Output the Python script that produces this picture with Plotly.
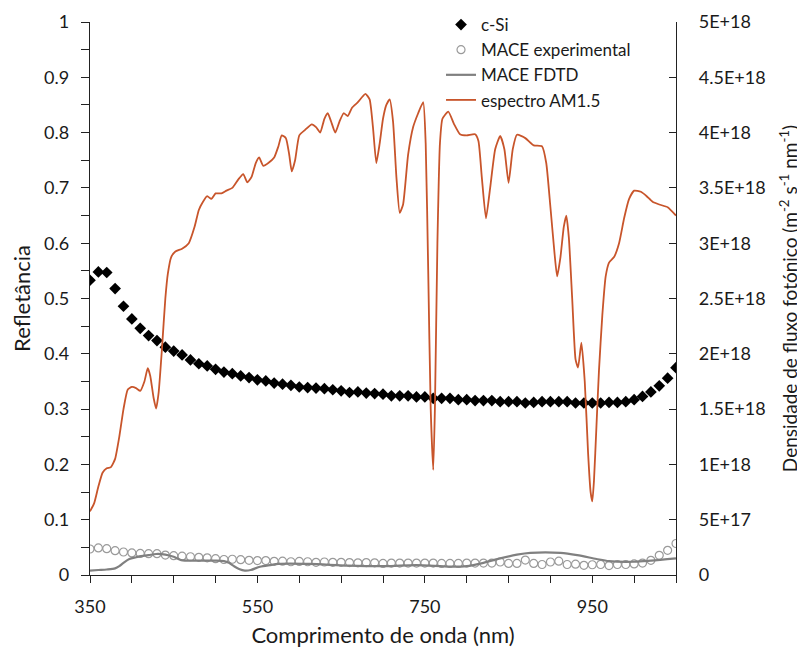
import plotly.graph_objects as go

# ---------------- data ----------------
wl_grid = list(range(350, 1051, 10))

csi_refl = [0.533, 0.548, 0.547, 0.518, 0.486, 0.463, 0.446, 0.433, 0.424, 0.412,
            0.405, 0.398, 0.389, 0.382, 0.378, 0.372, 0.367, 0.364, 0.360, 0.357,
            0.353, 0.351, 0.347, 0.345, 0.343, 0.340, 0.339, 0.338, 0.337, 0.335,
            0.333, 0.330, 0.331, 0.329, 0.328, 0.327, 0.324, 0.324, 0.324, 0.322,
            0.322, 0.3195, 0.3195, 0.3195, 0.317, 0.317, 0.3155, 0.3155, 0.3155, 0.3135,
            0.3135, 0.3135, 0.311, 0.312, 0.3135, 0.3135, 0.3135, 0.3135, 0.311, 0.311,
            0.311, 0.311, 0.312, 0.312, 0.3135, 0.317, 0.323, 0.331, 0.342, 0.356,
            0.375]

mace_exp = [0.047, 0.049, 0.0476, 0.044, 0.0416, 0.040, 0.039, 0.0386, 0.0386, 0.036,
            0.035, 0.034, 0.033, 0.032, 0.031, 0.0295, 0.028, 0.0285, 0.0277, 0.0265,
            0.026, 0.026, 0.0247, 0.025, 0.024, 0.0245, 0.024, 0.023, 0.0235, 0.023,
            0.023, 0.0225, 0.022, 0.0225, 0.022, 0.021, 0.0215, 0.0215, 0.0215, 0.0215,
            0.0215, 0.0215, 0.021, 0.021, 0.021, 0.0215, 0.0215, 0.0215, 0.0215, 0.0235,
            0.021, 0.021, 0.027, 0.021, 0.019, 0.0235, 0.025, 0.019, 0.0195, 0.0175,
            0.0185, 0.019, 0.017, 0.019, 0.019, 0.020, 0.0215, 0.0265, 0.0356, 0.0446,
            0.057]

fdtd_wl = [350, 360, 370, 380, 385, 390, 397, 405, 411, 420, 429, 440, 450, 459, 475,
           500, 510, 516, 522, 528, 535, 542, 553, 565, 575, 612, 658, 703, 740, 780,
           800, 820, 840, 860, 876, 912, 932, 955, 970, 1000, 1020, 1050]
fdtd_refl = [0.008, 0.009, 0.010, 0.012, 0.016, 0.022, 0.029, 0.032, 0.034, 0.036,
             0.038, 0.037, 0.033, 0.027, 0.026, 0.026, 0.025, 0.022, 0.016, 0.011,
             0.008, 0.009, 0.015, 0.018, 0.020, 0.020, 0.017, 0.016, 0.018, 0.015,
             0.016, 0.022, 0.030, 0.0367, 0.040, 0.040, 0.036, 0.029, 0.025, 0.024,
             0.026, 0.030]

am15_wl = [350, 355, 360, 365, 370, 375, 380, 385, 390, 395, 400, 405, 410, 415, 419,
           422, 426, 429, 432, 436, 440, 443, 447, 452, 460, 468, 475, 480, 485, 490,
           495, 500, 507, 513, 520, 527, 533, 538, 543, 548, 552, 557, 563, 570, 575,
           579, 584, 588, 591, 595, 600, 607, 615, 620, 625, 630, 634, 638, 643, 648,
           653, 658, 663, 670, 679, 684, 688, 692, 696, 700, 704, 708, 712, 716, 720,
           724, 730, 736, 742, 748, 751, 754, 757, 760, 762, 765, 768, 771, 778, 785,
           792, 800, 810, 814, 818, 823, 828, 834, 840, 845, 850, 855, 860, 870, 880,
           890, 895, 900, 905, 908, 912, 916, 919, 922, 926, 930, 933, 937, 941, 945,
           948, 950, 952, 955, 958, 962, 966, 970, 976, 982, 988, 994, 1000, 1008, 1015,
           1022, 1030, 1040, 1050]
# photon flux density in units of 1E+18 m^-2 s^-1 nm^-1
am15_e18 = [0.575, 0.65, 0.80, 0.925, 0.965, 0.975, 1.05, 1.25, 1.50, 1.675, 1.70, 1.69,
            1.665, 1.75, 1.87, 1.80, 1.60, 1.505, 1.65, 2.05, 2.50, 2.725, 2.875, 2.925,
            2.95, 3.00, 3.15, 3.30, 3.375, 3.425, 3.40, 3.45, 3.45, 3.475, 3.50, 3.575,
            3.625, 3.55, 3.60, 3.725, 3.775, 3.70, 3.725, 3.775, 3.875, 3.975, 3.95, 3.80,
            3.65, 3.75, 3.975, 4.025, 4.075, 4.05, 4.00, 4.125, 4.175, 4.10, 4.00, 4.10,
            4.175, 4.15, 4.225, 4.275, 4.35, 4.30, 4.05, 3.725, 3.90, 4.125, 4.25, 4.30,
            4.10, 3.60, 3.275, 3.35, 3.80, 4.05, 4.175, 4.275, 3.90, 2.75, 1.50, 0.95,
            1.50, 3.00, 3.90, 4.125, 4.19, 4.075, 3.985, 3.975, 3.985, 3.925, 3.60, 3.225,
            3.50, 3.85, 3.97, 3.85, 3.545, 3.85, 3.98, 3.95, 3.885, 3.875, 3.725, 3.325,
            2.90, 2.70, 2.875, 3.15, 3.25, 3.05, 2.50, 1.95, 1.875, 2.10, 1.75, 1.10,
            0.75, 0.665, 0.85, 1.35, 1.85, 2.35, 2.70, 2.825, 2.875, 3.00, 3.225, 3.40,
            3.475, 3.465, 3.425, 3.375, 3.35, 3.325, 3.25]

x_tick_vals = list(range(350, 1051, 50))
x_tick_text = ["350", "", "", "", "550", "", "", "", "750", "", "", "", "950", "", ""]
y_tick_vals = [0, 0.05, 0.1, 0.15, 0.2, 0.25, 0.3, 0.35, 0.4, 0.45, 0.5,
               0.55, 0.6, 0.65, 0.7, 0.75, 0.8, 0.85, 0.9, 0.95, 1]
y_tick_text = ["0", "", "0.1", "", "0.2", "", "0.3", "", "0.4", "", "0.5",
               "", "0.6", "", "0.7", "", "0.8", "", "0.9", "", "1"]
y2_tick_vals = [0, 0.5e18, 1e18, 1.5e18, 2e18, 2.5e18, 3e18, 3.5e18, 4e18, 4.5e18, 5e18]
y2_tick_text = ["0", "5E+17", "1E+18", "1.5E+18", "2E+18", "2.5E+18", "3E+18",
                "3.5E+18", "4E+18", "4.5E+18", "5E+18"]

FONT = "Lato"
TXT = "#1a1a1a"

fig = go.Figure()
fig.add_trace(go.Scatter(x=wl_grid, y=csi_refl, mode="markers", name="c-Si",
                         marker=dict(symbol="diamond", size=9, color="black")))
fig.add_trace(go.Scatter(x=wl_grid, y=mace_exp, mode="markers", name="MACE experimental",
                         marker=dict(symbol="circle-open", size=8, color="#9a9a9a",
                                     line=dict(width=1.2, color="#9a9a9a"))))
fig.add_trace(go.Scatter(x=fdtd_wl, y=fdtd_refl, mode="lines", name="MACE FDTD",
                         line=dict(color="#808080", width=2.2, shape="spline", smoothing=0.8)))
fig.add_trace(go.Scatter(x=am15_wl, y=[v * 1e18 for v in am15_e18], mode="lines",
                         name="espectro AM1.5", yaxis="y2",
                         line=dict(color="#C8552B", width=1.8, shape="spline", smoothing=0.5)))

# page body has an 8px margin, so the figure is sized/placed to compensate
fig.update_layout(
    width=797, height=640,
    margin=dict(l=82, r=129, t=14, b=73, autoexpand=False),
    paper_bgcolor="white", plot_bgcolor="white",
    font=dict(family=FONT, size=18, color=TXT),
    showlegend=True,
    legend=dict(x=0.599, y=1.027, xanchor="left", yanchor="top",
                bgcolor="rgba(0,0,0,0)", font=dict(size=17, color=TXT),
                tracegroupgap=0, itemwidth=30),
    xaxis=dict(range=[350, 1050], tickmode="array", tickvals=x_tick_vals,
               ticktext=x_tick_text, ticks="outside", ticklen=7, tickcolor="#222",
               showline=True, linecolor="#222", linewidth=1.3, showgrid=False,
               zeroline=False, automargin=False, ticklabelstandoff=8,
               title=dict(text="Comprimento de onda (nm)", standoff=13),
               tickfont=dict(size=18)),
    yaxis=dict(range=[0, 1], tickmode="array", tickvals=y_tick_vals, ticktext=y_tick_text,
               ticks="outside", ticklen=8, tickcolor="#222", showline=True,
               linecolor="#222", linewidth=1.3, showgrid=False, zeroline=False,
               ticklabelstandoff=8, automargin=False,
               title=dict(text="Refletância", standoff=12), tickfont=dict(size=18)),
    yaxis2=dict(range=[0, 5e18], overlaying="y", side="right", tickmode="array",
                tickvals=y2_tick_vals, ticktext=y2_tick_text, ticks="inside", ticklen=7,
                tickcolor="#222", showline=True, linecolor="#222", linewidth=1.3,
                showgrid=False, zeroline=False, ticklabelstandoff=18, automargin=False,
                title=dict(text="Densidade de fluxo fotónico (m<sup>-2</sup> s<sup>-1</sup> nm<sup>-1</sup>)",
                           standoff=19, font=dict(size=19)),
                tickfont=dict(size=18)),
)

fig.write_html("out.html")
